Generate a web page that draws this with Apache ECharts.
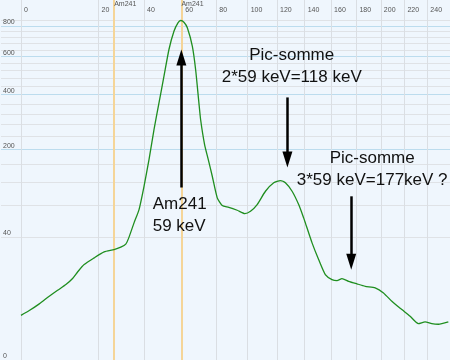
<!DOCTYPE html>
<html><head><meta charset="utf-8">
<script src="https://cdn.jsdelivr.net/npm/echarts@6/dist/echarts.min.js"></script>
<style>html,body{margin:0;padding:0;background:#eff6fd}#c{width:450px;height:360px}</style>
</head><body><div id="c"></div>
<script>
// Spectrum: energy (keV) and counts
const energyKeV = [0, 0.70, 2.29, 4.40, 6.49, 8.81, 10.85, 12.47, 14.70, 18.32, 22.20, 26.31, 29.20, 31.42, 32.77, 35.21, 37.57, 39.98, 42.43, 44.94, 47.49, 50.09, 52.73, 55.42, 57.61, 59.10, 60.93, 62.85, 65.69, 67.60, 69.52, 70.52, 72.88, 75.09, 77.50, 80.55, 83.64, 87.78, 93.15, 98.09, 101.85, 106.33, 111.98, 117.71, 122.42, 125.96, 130.77, 135.56, 139.23, 140.48, 145.47, 150.44, 155.53, 160.69, 164.57, 168.48, 173.69, 180.40, 187.11, 195.30, 202.19, 209.25, 217.75, 224.89, 232.10, 237.98, 243.91, 249.80, 258.81];
const counts = [1.9, 2.59, 3.79, 5.55, 7.27, 9.19, 11.6, 14.6, 18.63, 22.84, 27.1, 28.87, 30.87, 33.4, 39.05, 55.28, 72.98, 112.4, 172.6, 262.3, 364.6, 489.9, 641.6, 761.8, 821.8, 838.6, 826.1, 785.8, 662.2, 525.3, 364.6, 298.1, 214.4, 172.6, 133.0, 91.37, 78.96, 76.38, 71.96, 67.31, 70.54, 80.50, 103.0, 119.2, 123.9, 119.2, 103.0, 80.50, 61.55, 55.28, 34.44, 21.71, 13.36, 11.15, 10.74, 11.57, 10.46, 9.46, 8.59, 8.04, 6.48, 4.34, 2.75, 1.79, 1.03, 1.19, 1.03, 0.98, 1.19];
// Axis ticks
const energyTicks = [0, 20, 40, 60, 80, 100, 120, 140, 160, 180, 200, 220, 240];
const countTickLabels = [0, 40, 200, 400, 600, 800];
const countMajorLines = [200, 400, 600, 800];
const countGridLines = [40, 80, 120, 160, 240, 280, 320, 360, 440, 480, 520, 560, 640, 680, 720, 760, 840];
// Reference lines
const markerEnergies = [26.34, 59.54];
const markerLabels = ['Am241', 'Am241'];
// Arrows (energy, from count, to count)
const arrowEnergy = [59.5, 127.4, 175.8];
const arrowFrom = [110, 388, 94];
const arrowTo = [593, 172.6, 20.4];
// Notes
const noteTexts = ['Pic-somme\n2*59 keV=118 keV', 'Pic-somme\n3*59 keV=177keV ?', 'Am241\n59 keV'];
const noteEnergy = [130.5, 192.8, 44.3];
const noteCount = [673, 205, 99];
const noteAlign = ['center', 'center', 'left'];

const xu = e => Math.pow(e, 2 / 3);
const yu = c => Math.cbrt(c);
const XMIN = -1.9, XMAX = 40.77, YMAX = 10;
const FONT = '"Liberation Sans", Arial, sans-serif';

const chart = echarts.init(document.getElementById('c'));
const markerU = markerEnergies.map(xu);
const hidden = { axisLine: { show: false } };
chart.setOption({
  backgroundColor: '#eff6fd',
  animation: false,
  grid: { left: 0, right: 0, top: 0, bottom: 0 },
  xAxis: [
    {
      type: 'value', position: 'top', min: XMIN, max: XMAX, ...hidden,
      axisTick: { show: false, customValues: energyTicks.map(xu) },
      axisLabel: {
        inside: true, customValues: energyTicks.map(xu),
        formatter: v => String(Math.round(Math.pow(Math.max(v, 0), 1.5))),
        align: 'left', margin: 7, fontSize: 7, color: '#555', fontFamily: FONT, padding: [0, 0, 0, 3]
      },
      splitLine: { show: true, lineStyle: { color: '#dadee3', width: 1 } }
    },
    {
      type: 'value', position: 'top', min: XMIN, max: XMAX, ...hidden,
      axisTick: { show: false, customValues: markerU },
      axisLabel: {
        inside: true, customValues: markerU,
        formatter: v => markerLabels[markerU.findIndex(m => Math.abs(m - v) < 1e-6)] || 'Am241',
        align: 'left', margin: 1, fontSize: 7, color: '#555', fontFamily: FONT
      },
      splitLine: { show: true, lineStyle: { color: '#f5d598', width: 2 } }
    }
  ],
  yAxis: [
    {
      type: 'value', position: 'left', min: 0, max: YMAX, ...hidden,
      axisTick: { show: false, customValues: countGridLines.map(yu) },
      axisLabel: { show: false },
      splitLine: { show: true, lineStyle: { color: '#dfe2e6', width: 1 } }
    },
    {
      type: 'value', position: 'left', offset: 0, min: 0, max: YMAX, ...hidden,
      axisTick: { show: false, customValues: countMajorLines.map(yu) },
      axisLabel: {
        inside: true, customValues: countTickLabels.map(yu),
        formatter: v => String(Math.round(Math.pow(v, 3))),
        align: 'left', verticalAlign: 'bottom', margin: 2, fontSize: 7, color: '#555', fontFamily: FONT
      },
      splitLine: { show: true, lineStyle: { color: '#bcdcee', width: 1 } }
    }
  ],
  series: [{
    type: 'line', xAxisIndex: 0, yAxisIndex: 0,
    data: energyKeV.map((e, i) => [xu(e), yu(counts[i])]),
    showSymbol: false, smooth: 0.2,
    lineStyle: { color: '#1f8e1f', width: 1.3 },
    markLine: {
      silent: true, symbol: ['none', 'triangle'], symbolSize: [10, 16],
      lineStyle: { color: '#000', width: 2.5, type: 'solid' },
      label: { show: false },
      data: arrowEnergy.map((e, i) => [
        { coord: [xu(e), yu(arrowFrom[i])] },
        { coord: [xu(e), yu(arrowTo[i])] }
      ])
    }
  }]
});

const graphics = noteTexts.map((t, i) => {
  const p = chart.convertToPixel({ xAxisIndex: 0, yAxisIndex: 0 }, [xu(noteEnergy[i]), yu(noteCount[i])]);
  return {
    type: 'text', z: 100,
    style: { text: t, x: p[0], y: p[1], textAlign: noteAlign[i], textVerticalAlign: 'top',
      font: '17px ' + FONT, lineHeight: 22, fill: '#111' }
  };
});
chart.setOption({ graphic: graphics });
</script>
</body></html>
